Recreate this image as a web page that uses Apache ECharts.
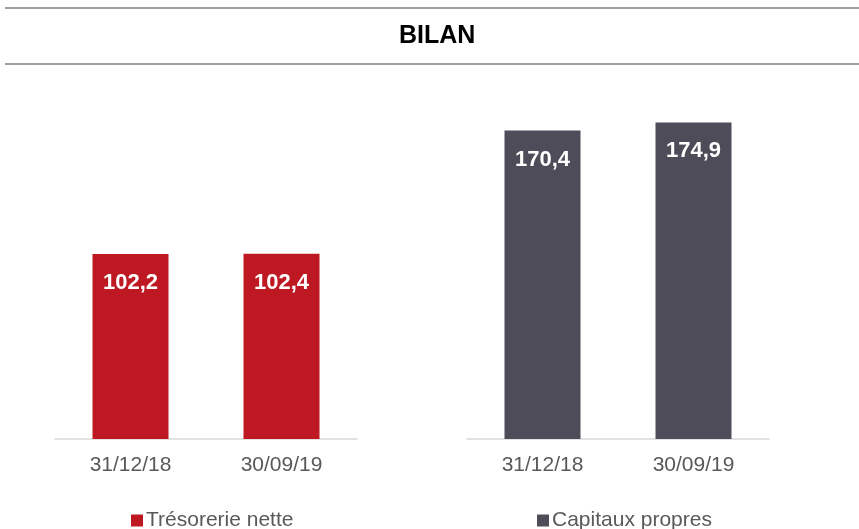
<!DOCTYPE html>
<html>
<head>
<meta charset="utf-8">
<script src="https://cdn.jsdelivr.net/npm/echarts@6/dist/echarts.min.js"></script>
<style>
  html, body { margin: 0; padding: 0; background: #fff; }
  #chart { width: 859px; height: 529px; }
</style>
</head>
<body>
<div id="chart"></div>
<script>
const categories = ['31/12/18', '30/09/19'];
const tresorerie = [102.2, 102.4];
const capitaux = [170.4, 174.9];

const FONT = '"Liberation Sans", Arial, sans-serif';
const chart = echarts.init(document.getElementById('chart'));

function fmt(p) {
  return p.value.toFixed(1).replace('.', ',');
}

const xAxisBase = {
  type: 'category',
  data: categories,
  axisLine: { lineStyle: { color: '#d9d9d9', width: 1.5 } },
  axisTick: { show: false },
  axisLabel: { color: '#595959', fontSize: 21, fontFamily: FONT, margin: 16 }
};
const yAxisBase = {
  type: 'value', min: 0, max: 200, show: false,
  splitLine: { show: false }
};
const labelBase = {
  show: true, position: 'insideTop', distance: 18,
  color: '#fff', fontSize: 22, fontWeight: 'bold', fontFamily: FONT,
  formatter: fmt
};
const legendText = { color: '#595959', fontSize: 21, fontFamily: FONT, padding: [0, 0, 0, -2] };

chart.setOption({
  animation: false,
  title: {
    text: 'BILAN', left: 399, top: 24, padding: 0,
    textStyle: { fontSize: 25, fontWeight: 'bold', color: '#000', fontFamily: FONT }
  },
  graphic: [
    { type: 'line', shape: { x1: 5, y1: 8, x2: 859, y2: 8 }, style: { stroke: '#7f7f7f', lineWidth: 1.5 } },
    { type: 'line', shape: { x1: 5, y1: 64, x2: 859, y2: 64 }, style: { stroke: '#7f7f7f', lineWidth: 1.5 } }
  ],
  legend: [
    {
      data: ['Trésorerie nette'], left: 126, top: 505,
      icon: 'rect', itemWidth: 12, itemHeight: 12, itemGap: 4,
      textStyle: legendText
    },
    {
      data: ['Capitaux propres'], left: 532, top: 505,
      icon: 'rect', itemWidth: 12, itemHeight: 12, itemGap: 4,
      textStyle: legendText
    }
  ],
  grid: [
    { left: 55, width: 302, top: 77, bottom: 90 },
    { left: 467, width: 302, top: 77, bottom: 90 }
  ],
  xAxis: [
    Object.assign({ gridIndex: 0 }, xAxisBase),
    Object.assign({ gridIndex: 1 }, xAxisBase)
  ],
  yAxis: [
    Object.assign({ gridIndex: 0 }, yAxisBase),
    Object.assign({ gridIndex: 1 }, yAxisBase)
  ],
  series: [
    {
      name: 'Trésorerie nette', type: 'bar', xAxisIndex: 0, yAxisIndex: 0,
      data: tresorerie, barWidth: 76,
      itemStyle: { color: '#be1823' },
      label: labelBase
    },
    {
      name: 'Capitaux propres', type: 'bar', xAxisIndex: 1, yAxisIndex: 1,
      data: capitaux, barWidth: 76,
      itemStyle: { color: '#4e4c58' },
      label: labelBase
    }
  ]
});
</script>
</body>
</html>
